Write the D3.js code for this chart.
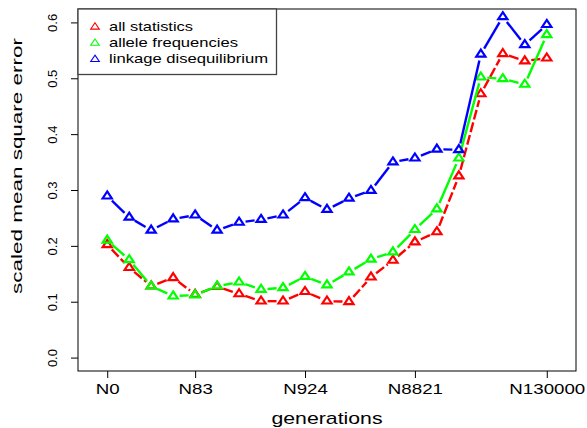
<!DOCTYPE html>
<html><head><meta charset="utf-8">
<script src="https://cdn.jsdelivr.net/npm/d3@7"></script>
<style>
html,body{margin:0;padding:0;background:#fff;}
svg{display:block;font-family:"Liberation Sans",Arial,Helvetica,sans-serif;}
</style></head>
<body>
<svg id="chart" width="587" height="428"></svg>
<script>
// ---- data ----
const tickIndex = [0, 4, 9, 14, 20];
const tickLabels = ["N0", "N83", "N924", "N8821", "N130000"];
const yTicks = [0.0, 0.1, 0.2, 0.3, 0.4, 0.5, 0.6];
const seriesNames = ["all statistics", "allele frequencies", "linkage disequilibrium"];
const seriesColors = ["#ff0000", "#00ff00", "#0000ff"];
const allStats = [0.202, 0.161, 0.128, 0.143, 0.113, 0.127, 0.114, 0.101, 0.101, 0.118, 0.101,
                  0.100, 0.144, 0.174, 0.207, 0.225, 0.325, 0.472, 0.544, 0.531, 0.536];
const alleleFreq = [0.210, 0.175, 0.128, 0.110, 0.112, 0.128, 0.135, 0.122, 0.125, 0.145, 0.130,
                    0.153, 0.176, 0.189, 0.229, 0.266, 0.357, 0.502, 0.499, 0.489, 0.578];
const linkageDis = [0.289, 0.251, 0.228, 0.248, 0.255, 0.228, 0.242, 0.247, 0.255, 0.286, 0.265,
                    0.285, 0.299, 0.350, 0.357, 0.373, 0.372, 0.543, 0.610, 0.560, 0.596];
const series = [allStats, alleleFreq, linkageDis];

// ---- layout ----
const svg = d3.select("#chart");
const plot = {left: 78, right: 576, top: 9, bottom: 371};
const x = d3.scaleLinear().domain([-1.33, 21.33]).range([plot.left, plot.right]);
const y = d3.scaleLinear().domain([-0.024, 0.624]).range([plot.bottom, plot.top]);
const emW = 18.7; // horizontal px per em of the (wide) reference text

// triangle path (R pch=2), centred on point, slightly wide
function tri(h, k) {
  const r = h * 1.1547 * k, yc = h * 0.5774 * k;
  return `M0,${-r}L${h},${yc}L${-h},${yc}Z`;
}

const gap = 6.5;
series.forEach((vals, s) => {
  const pts = vals.map((v, i) => [x(i), y(v)]);
  const g = svg.append("g");
  for (let i = 0; i < pts.length - 1; i++) {
    const [x1, y1] = pts[i], [x2, y2] = pts[i + 1];
    const dx = x2 - x1, dy = y2 - y1, L = Math.hypot(dx, dy);
    if (L <= 2 * gap) continue;
    const ux = dx / L, uy = dy / L;
    g.append("line")
      .attr("x1", x1 + ux * gap).attr("y1", y1 + uy * gap)
      .attr("x2", x2 - ux * gap).attr("y2", y2 - uy * gap)
      .attr("stroke", seriesColors[s]).attr("stroke-width", 2.4)
      .attr("stroke-dasharray", s === 0 ? "10,3" : null);
  }
  g.selectAll("path").data(pts).join("path")
    .attr("d", tri(4.6, 0.88))
    .attr("transform", d => `translate(${d[0]},${d[1]})`)
    .attr("fill", "none").attr("stroke", seriesColors[s]).attr("stroke-width", 2.2)
    .attr("stroke-linejoin", "miter");
});

// box
svg.append("rect").attr("x", plot.left).attr("y", plot.top)
  .attr("width", plot.right - plot.left).attr("height", plot.bottom - plot.top)
  .attr("fill", "none").attr("stroke", "#000").attr("stroke-width", 1);

// x axis
const xAxis = d3.axisBottom(x).tickValues(tickIndex)
  .tickFormat((d, i) => tickLabels[i]).tickSize(7).tickPadding(6);
const gx = svg.append("g").attr("transform", `translate(0,${plot.bottom})`).call(xAxis);
gx.select(".domain").remove();
gx.selectAll("text").attr("font-size", 14).attr("fill", "#000")
  .attr("font-family", "Liberation Sans, Arial, sans-serif")
  .attr("lengthAdjust", "spacingAndGlyphs")
  .attr("textLength", function () { return this.getComputedTextLength() / 14 * emW; });

// y axis
const yAxis = d3.axisLeft(y).tickValues(yTicks).tickFormat(d3.format(".1f")).tickSize(7).tickPadding(5);
const gy = svg.append("g").attr("transform", `translate(${plot.left},0)`).call(yAxis);
gy.select(".domain").remove();
gy.selectAll("text").attr("font-size", 13).attr("fill", "#000")
  .attr("font-family", "Liberation Sans, Arial, sans-serif")
  .attr("text-anchor", "middle")
  .attr("transform", "translate(-26,0) rotate(-90)")
  .attr("x", 0).attr("dy", 0).attr("y", 5);

// axis titles
svg.append("text").attr("x", 327).attr("y", 424)
  .attr("text-anchor", "middle").attr("font-size", 17)
  .attr("textLength", 111).attr("lengthAdjust", "spacingAndGlyphs").text("generations");
svg.append("text").attr("transform", `translate(22,166) rotate(-90)`)
  .attr("text-anchor", "middle").attr("font-size", 15.5)
  .attr("textLength", 256).attr("lengthAdjust", "spacingAndGlyphs").text("scaled mean square error");

// legend
const legendLen = [84, 129, 159];
const lg = svg.append("g");
lg.append("rect").attr("x", plot.left).attr("y", plot.top).attr("width", 198.5).attr("height", 65.5)
  .attr("fill", "#fff").attr("stroke", "#444").attr("stroke-width", 1.3);
seriesNames.forEach((n, i) => {
  const yy = 26 + i * 16.2;
  lg.append("path").attr("d", tri(4.3, 0.85)).attr("transform", `translate(95,${yy + 1})`)
    .attr("fill", "none").attr("stroke", seriesColors[i]).attr("stroke-width", 1.1);
  lg.append("text").attr("x", 109).attr("y", yy + 5).attr("font-size", 13.5)
    .attr("textLength", legendLen[i]).attr("lengthAdjust", "spacingAndGlyphs").text(n);
});
</script>
</body></html>
